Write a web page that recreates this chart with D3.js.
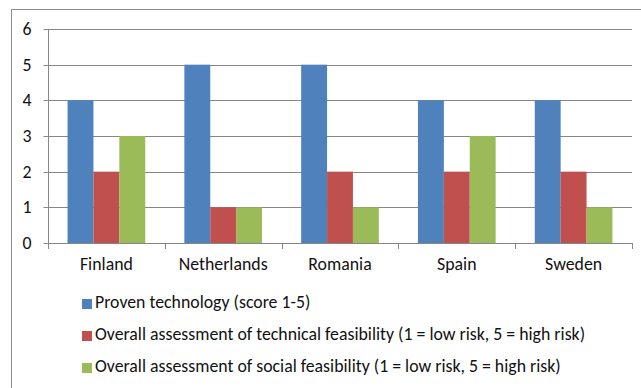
<!DOCTYPE html>
<html>
<head>
<meta charset="utf-8">
<script src="https://cdn.jsdelivr.net/npm/d3@7"></script>
<style>
  html, body { margin: 0; padding: 0; background: #fff; }
  svg { display: block; }
  text { font-family: Carlito, "Open Sans", "Liberation Sans", sans-serif; font-weight: 400; fill: #111; }
</style>
</head>
<body>
<svg id="chart" width="641" height="388"></svg>
<script>
const countries = ["Finland", "Netherlands", "Romania", "Spain", "Sweden"];
const seriesNames = [
  "Proven technology (score 1-5)",
  "Overall assessment of technical feasibility (1 = low risk, 5 = high risk)",
  "Overall assessment of social feasibility (1 = low risk, 5 = high risk)"
];
const provenTechnology = [4, 5, 5, 4, 4];
const technicalFeasibility = [2, 1, 2, 2, 2];
const socialFeasibility = [3, 1, 1, 3, 1];
const yTicks = [0, 1, 2, 3, 4, 5, 6];
const colors = ["#4F81BD", "#C0504D", "#9BBB59"];

const seriesValues = [provenTechnology, technicalFeasibility, socialFeasibility];
const svg = d3.select("#chart");
const fontSize = "17.8px";

// outer chart frame (runs off the right and bottom edges)
svg.append("rect")
  .attr("x", 11.5).attr("y", 9.5)
  .attr("width", 640).attr("height", 400)
  .attr("fill", "none").attr("stroke", "#8c8c8c").attr("stroke-width", 1);

const plot = { left: 48, right: 632, top: 29, bottom: 243 };

const x = d3.scaleBand().domain(countries)
  .range([plot.left, plot.right]).paddingInner(0.335).paddingOuter(0.1675);
const xInner = d3.scaleBand().domain(d3.range(seriesNames.length))
  .range([0, x.bandwidth()]);
const y = d3.scaleLinear().domain([0, 6]).range([plot.bottom, plot.top]);

// horizontal gridlines
svg.append("g").selectAll("line").data(yTicks.filter(d => d > 0)).join("line")
  .attr("x1", plot.left).attr("x2", plot.right)
  .attr("y1", d => Math.round(y(d)) + 0.5).attr("y2", d => Math.round(y(d)) + 0.5)
  .attr("stroke", "#868686").attr("stroke-width", 1);

// bars
const groups = svg.append("g").selectAll("g").data(countries).join("g")
  .attr("transform", d => `translate(${x(d)},0)`);
groups.selectAll("rect")
  .data((c, i) => seriesValues.map((vals, s) => ({ s, v: vals[i] })))
  .join("rect")
  .attr("x", d => xInner(d.s))
  .attr("width", xInner.bandwidth())
  .attr("y", d => y(d.v))
  .attr("height", d => y(0) - y(d.v))
  .attr("fill", d => colors[d.s]);

// y axis
const yAxis = svg.append("g")
  .attr("transform", `translate(${plot.left + 0.5},0)`)
  .call(d3.axisLeft(y).tickValues(yTicks).tickFormat(d3.format("d")).tickSize(5).tickPadding(12));
yAxis.select(".domain").attr("stroke", "#868686").attr("d", `M0,${y(6)}V${y(0)}`);
yAxis.selectAll(".tick line").attr("stroke", "#868686");
yAxis.selectAll(".tick").attr("transform", d => `translate(0,${Math.round(y(d)) + 0.5})`);
yAxis.selectAll("text").style("font-size", fontSize).attr("font-family", null).attr("fill", null);

// x axis with boundary tick marks between categories
const xg = svg.append("g");
xg.append("line")
  .attr("x1", plot.left).attr("x2", plot.right)
  .attr("y1", Math.round(y(0)) + 0.5).attr("y2", Math.round(y(0)) + 0.5)
  .attr("stroke", "#868686");
const bounds = d3.range(countries.length + 1).map(i => plot.left + i * (plot.right - plot.left) / countries.length);
xg.selectAll("line.tick").data(bounds).join("line").attr("class", "tick")
  .attr("x1", d => Math.round(d) + 0.5).attr("x2", d => Math.round(d) + 0.5)
  .attr("y1", Math.round(y(0))).attr("y2", Math.round(y(0)) + 6)
  .attr("stroke", "#868686");
xg.selectAll("text").data(countries).join("text")
  .attr("x", d => x(d) + x.bandwidth() / 2)
  .attr("y", 266)
  .attr("text-anchor", "middle")
  .attr("dominant-baseline", "middle")
  .style("font-size", fontSize)
  .text(d => d);

// legend
const legend = svg.append("g").selectAll("g").data(seriesNames).join("g")
  .attr("transform", (d, i) => `translate(82,${304 + i * 32})`);
legend.append("rect")
  .attr("x", 0).attr("y", -5).attr("width", 10).attr("height", 10)
  .attr("fill", (d, i) => colors[i]);
legend.append("text")
  .attr("x", 13).attr("y", 0)
  .attr("dominant-baseline", "middle")
  .style("font-size", fontSize)
  .text(d => d);
</script>
</body>
</html>
